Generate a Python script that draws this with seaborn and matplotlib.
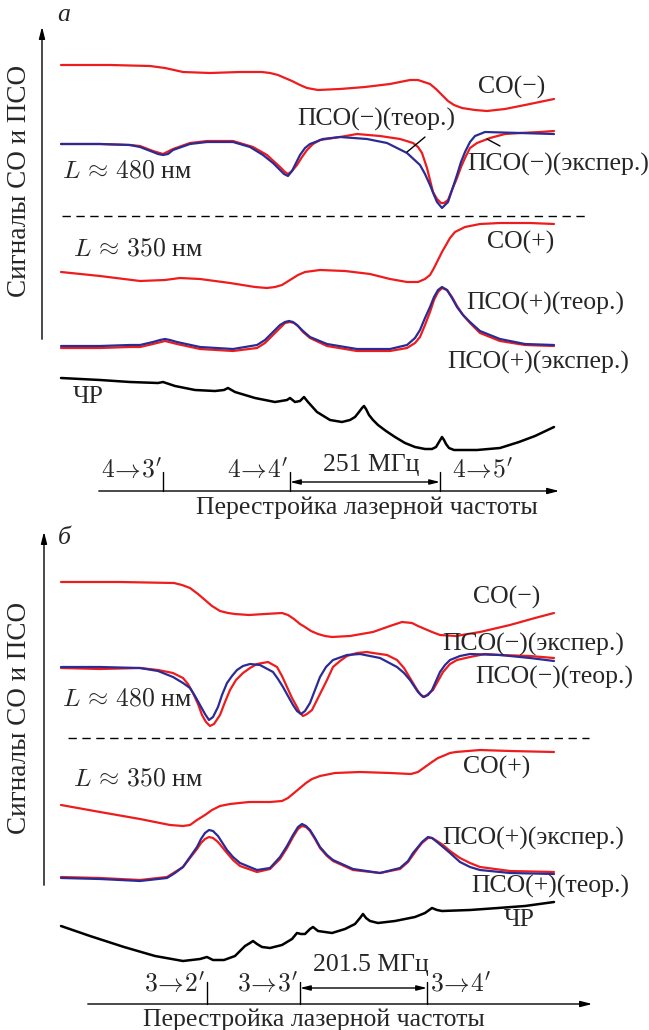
import numpy as np
import matplotlib
matplotlib.use("Agg")
import matplotlib.pyplot as plt
import seaborn as sns

# readings (scan channel, signal in a.u., screen-down)
# ---- panel a : F=4 transitions ----
co_minus_a_x = [61, 110, 150, 165, 183, 210, 240, 262, 270, 278, 285, 292, 300, 307, 318, 340, 365, 390, 410, 418, 424, 430, 436, 442, 448, 454, 462, 475, 487, 505, 525, 554]
co_minus_a_y = [65, 65, 66, 68, 72, 73, 72, 72, 73, 75, 78, 81, 85, 88, 90, 89, 87, 84, 80, 80, 82, 84, 89, 95, 101, 105, 108, 110, 111, 109, 105, 99]

pso_minus_a_teor_x = [61, 100, 130, 140, 153, 158, 163, 168, 173, 190, 207, 233, 250, 263, 273, 280, 284, 288, 292, 296, 300, 305, 310, 323, 340, 367, 387, 407, 420, 425, 430, 434, 437, 442, 448, 452, 457, 461, 465, 470, 475, 485, 520, 554]
pso_minus_a_teor_y = [144, 144, 145, 147, 152, 154, 155, 154, 150, 144, 142, 142, 147, 155, 163, 170, 174, 176, 171, 163, 155, 148, 144, 139, 137, 139, 143, 153, 165, 174, 185, 195, 202, 208, 202, 190, 175, 162, 152, 142, 136, 132, 133, 134]
pso_minus_a_exp_x = [61, 100, 130, 140, 153, 163, 173, 190, 207, 233, 253, 267, 280, 285, 288, 292, 297, 302, 307, 313, 320, 340, 357, 380, 400, 413, 418, 422, 427, 433, 437, 441, 444, 448, 452, 457, 461, 465, 470, 477, 490, 505, 520, 540, 554]
pso_minus_a_exp_y = [144, 144, 145, 146, 151, 154, 149, 143, 141, 141, 147, 155, 167, 172, 174, 171, 165, 157, 150, 144, 140, 137, 134, 136, 139, 143, 147, 153, 168, 192, 199, 203, 203, 200, 190, 178, 167, 158, 148, 143, 138, 134, 133, 132, 131]

co_plus_a_x = [61, 100, 140, 165, 180, 200, 230, 255, 267, 275, 282, 290, 298, 305, 320, 345, 370, 390, 407, 418, 425, 430, 434, 438, 442, 446, 450, 455, 465, 480, 500, 530, 554]
co_plus_a_y = [272, 276, 281, 280, 278, 279, 283, 287, 288, 287, 285, 280, 275, 272, 270, 271, 274, 279, 282, 282, 279, 275, 268, 260, 252, 245, 238, 232, 227, 224, 223, 223, 224]

pso_plus_a_teor_x = [61, 100, 130, 140, 153, 160, 165, 170, 177, 200, 233, 257, 265, 270, 275, 280, 285, 289, 293, 297, 303, 310, 327, 357, 390, 407, 415, 420, 425, 430, 434, 438, 442, 447, 452, 457, 463, 470, 480, 500, 525, 554]
pso_plus_a_teor_y = [346, 346, 345, 345, 342, 340, 339, 340, 342, 347, 349, 345, 340, 335, 330, 325, 322, 321, 322, 325, 331, 337, 344, 349, 349, 345, 338, 330, 318, 307, 297, 290, 287, 290, 298, 307, 315, 322, 331, 339, 344, 345]
pso_plus_a_exp_x = [61, 100, 130, 140, 153, 165, 177, 200, 233, 257, 265, 270, 275, 280, 285, 290, 294, 298, 303, 310, 327, 357, 390, 407, 415, 420, 425, 430, 434, 438, 442, 447, 452, 457, 463, 470, 480, 500, 525, 554]
pso_plus_a_exp_y = [348, 348, 347, 347, 344, 341, 344, 349, 351, 348, 343, 338, 333, 328, 323, 322, 323, 326, 332, 338, 346, 351, 351, 348, 343, 337, 325, 312, 300, 292, 288, 290, 297, 306, 315, 323, 333, 341, 345, 346]

chr_a_x = [61, 100, 130, 158, 163, 175, 195, 215, 224, 228, 235, 255, 275, 287, 290, 295, 300, 304, 308, 317, 330, 342, 350, 355, 359, 362, 364, 366, 369, 373, 378, 386, 395, 405, 415, 425, 432, 436, 439, 442, 444, 446, 449, 454, 477, 500, 519, 535, 554]
chr_a_y = [378, 380, 382, 383, 382, 386, 390, 391, 390, 388, 392, 398, 402, 400, 398, 402, 401, 397, 402, 412, 420, 422, 420, 417, 412, 408, 406, 409, 415, 420, 425, 431, 437, 443, 447, 449, 449, 447, 442, 437, 440, 444, 448, 450, 450, 448, 442, 436, 427]

trans_a = [163, 290, 440]
trans_a_labels = [r"$4\!\rightarrow\!3'$", r"$4\!\rightarrow\!4'$", r"$4\!\rightarrow\!5'$"]

# ---- panel b : F=3 transitions ----
co_minus_b_x = [61, 120, 174, 182, 190, 198, 205, 212, 220, 228, 235, 249, 265, 282, 288, 294, 300, 305, 311, 318, 325, 332, 350, 373, 390, 402, 412, 418, 425, 432, 440, 456, 480, 510, 535, 554]
co_minus_b_y = [582, 582, 583, 585, 588, 594, 600, 606, 611, 613, 614, 615, 614, 613, 615, 619, 624, 627, 631, 634, 636, 637, 636, 632, 626, 622, 623, 626, 629, 632, 635, 636, 632, 625, 618, 613]

pso_minus_b_teor_x = [61, 100, 140, 158, 173, 183, 190, 195, 200, 205, 209, 213, 218, 222, 227, 232, 237, 243, 250, 260, 273, 278, 283, 288, 293, 297, 301, 305, 310, 315, 320, 326, 333, 347, 360, 380, 397, 404, 410, 414, 418, 421, 424, 428, 432, 436, 440, 445, 450, 460, 470, 500, 530, 554]
pso_minus_b_teor_y = [667, 667, 668, 671, 677, 683, 688, 696, 705, 714, 720, 717, 707, 695, 683, 676, 670, 666, 664, 665, 672, 679, 687, 696, 705, 711, 714, 711, 703, 690, 677, 667, 660, 655, 654, 658, 667, 673, 680, 686, 692, 695, 697, 695, 690, 681, 672, 665, 660, 656, 654, 655, 658, 661]
pso_minus_b_exp_x = [61, 100, 140, 158, 173, 183, 188, 193, 198, 202, 206, 210, 214, 220, 225, 230, 236, 243, 250, 257, 268, 277, 282, 287, 292, 297, 300, 303, 307, 312, 317, 322, 327, 333, 340, 347, 357, 367, 373, 387, 397, 404, 410, 416, 420, 423, 427, 433, 438, 443, 450, 457, 470, 485, 500, 530, 554]
pso_minus_b_exp_y = [668, 669, 668, 670, 673, 678, 684, 693, 704, 715, 722, 726, 724, 715, 702, 690, 680, 673, 668, 664, 662, 667, 676, 687, 698, 707, 713, 716, 714, 710, 700, 690, 680, 667, 661, 656, 653, 652, 653, 655, 660, 668, 678, 688, 694, 697, 695, 690, 681, 672, 664, 660, 657, 654, 655, 656, 658]

co_plus_b_x = [61, 100, 140, 170, 183, 190, 197, 205, 212, 220, 230, 249, 270, 282, 288, 294, 300, 306, 312, 320, 335, 360, 390, 411, 418, 425, 432, 438, 443, 450, 456, 480, 510, 554]
co_plus_b_y = [805, 812, 819, 825, 826, 825, 820, 815, 810, 806, 804, 802, 802, 801, 798, 793, 788, 783, 779, 776, 773, 772, 773, 774, 772, 767, 762, 758, 756, 753, 752, 750, 751, 752]

pso_plus_b_x = [61, 100, 140, 167, 175, 183, 190, 197, 201, 205, 209, 213, 218, 227, 233, 240, 257, 270, 280, 287, 293, 298, 302, 306, 310, 315, 320, 327, 333, 353, 380, 400, 408, 413, 418, 422, 428, 432, 437, 443, 450, 460, 470, 480, 510, 554]
pso_plus_b_teor_y = [878, 879, 881, 878, 873, 867, 857, 847, 839, 833, 830, 831, 836, 850, 857, 863, 870, 868, 857, 846, 835, 827, 824, 826, 830, 838, 847, 855, 860, 869, 873, 868, 861, 853, 847, 842, 837, 838, 842, 847, 853, 862, 867, 870, 873, 874]
pso_plus_b_exp_y = [877, 878, 880, 877, 872, 867, 858, 849, 843, 839, 837, 838, 842, 853, 860, 866, 872, 869, 859, 848, 837, 829, 826, 827, 831, 839, 848, 856, 861, 870, 873, 869, 862, 855, 848, 843, 838, 838, 841, 845, 851, 858, 863, 867, 871, 872]

chr_b_x = [61, 90, 124, 155, 183, 200, 207, 213, 224, 235, 245, 250, 253, 257, 262, 270, 282, 292, 297, 301, 305, 310, 313, 318, 332, 345, 355, 360, 363, 366, 370, 378, 395, 415, 425, 432, 437, 442, 470, 498, 525, 554]
chr_b_y = [926, 936, 947, 956, 961, 959, 957, 960, 960, 956, 946, 943, 941, 944, 947, 948, 945, 939, 933, 934, 934, 929, 927, 931, 933, 929, 924, 918, 914, 918, 921, 923, 921, 917, 913, 908, 910, 911, 910, 908, 906, 902]

trans_b = [207, 300, 427]
trans_b_labels = [r"$3\!\rightarrow\!2'$", r"$3\!\rightarrow\!3'$", r"$3\!\rightarrow\!4'$"]

RED = "#ee1c1c"
BLUE = "#2b2b96"

sns.set_style("white")
plt.rcParams['font.family'] = ['Liberation Serif', 'DejaVu Serif']
plt.rcParams['mathtext.fontset'] = 'cm'
FS = 18.5

fig = plt.figure(figsize=(6.49, 10.30), dpi=100)
ax_a = fig.add_axes([0, 0.5, 1, 0.5])
ax_b = fig.add_axes([0, 0, 1, 0.5])
ax_a.set_xlim(0, 649)
ax_a.set_ylim(515, 0)
ax_b.set_xlim(0, 649)
ax_b.set_ylim(1030, 515)

ARROW = dict(arrowstyle="-|>,head_length=0.7,head_width=0.18", color="black", lw=1)
DARROW = dict(arrowstyle="<|-|>,head_length=0.6,head_width=0.15", color="black", lw=1, shrinkA=0, shrinkB=0)


def curve(ax, x, y, color, lw=1.6):
    sns.lineplot(x=x, y=y, ax=ax, color=color, linewidth=lw, estimator=None, sort=False,
                 solid_joinstyle="round", solid_capstyle="round")


def txt(ax, x, y, s, ha="left", **kw):
    ax.text(x, y, s, ha=ha, va="center", fontsize=FS, **kw)


# panel a
curve(ax_a, co_minus_a_x, co_minus_a_y, RED)
curve(ax_a, pso_minus_a_exp_x, pso_minus_a_exp_y, RED)
curve(ax_a, pso_minus_a_teor_x, pso_minus_a_teor_y, BLUE)
curve(ax_a, co_plus_a_x, co_plus_a_y, RED)
curve(ax_a, pso_plus_a_exp_x, pso_plus_a_exp_y, RED)
curve(ax_a, pso_plus_a_teor_x, pso_plus_a_teor_y, BLUE)
curve(ax_a, chr_a_x, chr_a_y, "black", lw=1.8)
ax_a.plot([62, 585], [216, 216], color="black", lw=1, dashes=(6, 4))
ax_a.plot([407, 425], [152, 137], color="black", lw=1)
ax_a.plot([487, 500], [139, 146], color="black", lw=1)

ax_a.annotate("", xy=(42, 24), xytext=(42, 342), arrowprops=ARROW)
ax_a.text(20, 181, "Сигналы СО и ПСО", rotation=90, ha="center", va="center", fontsize=19.5)
txt(ax_a, 57, 15, "а", fontstyle="italic")
txt(ax_a, 478, 87, "СО(−)")
txt(ax_a, 297, 119, "ПСО(−)(теор.)")
txt(ax_a, 467, 164, "ПСО(−)(экспер.)")
txt(ax_a, 62, 171, r"$L\,\approx\,480$ нм")
txt(ax_a, 73, 249, r"$L\,\approx\,350$ нм")
txt(ax_a, 487, 242, "СО(+)")
txt(ax_a, 466, 303, "ПСО(+)(теор.)")
txt(ax_a, 447, 362, "ПСО(+)(экспер.)")
txt(ax_a, 73, 397, "ЧР")

ax_a.annotate("", xy=(562, 491), xytext=(96, 491), arrowprops=ARROW)
for xt in trans_a:
    ax_a.plot([xt, xt], [472, 491], color="black", lw=1)
ax_a.annotate("", xy=(trans_a[1], 482), xytext=(trans_a[2], 482), arrowprops=DARROW)
txt(ax_a, trans_a[0] - 1, 470, trans_a_labels[0], ha="right")
txt(ax_a, trans_a[1] - 2, 470, trans_a_labels[1], ha="right")
txt(ax_a, trans_a[2] + 12, 470, trans_a_labels[2])
txt(ax_a, 371, 465, "251 МГц", ha="center")
txt(ax_a, 367, 508, "Перестройка лазерной частоты", ha="center")

# panel b
curve(ax_b, co_minus_b_x, co_minus_b_y, RED)
curve(ax_b, pso_minus_b_exp_x, pso_minus_b_exp_y, RED)
curve(ax_b, pso_minus_b_teor_x, pso_minus_b_teor_y, BLUE)
curve(ax_b, co_plus_b_x, co_plus_b_y, RED)
curve(ax_b, pso_plus_b_x, pso_plus_b_exp_y, RED)
curve(ax_b, pso_plus_b_x, pso_plus_b_teor_y, BLUE)
curve(ax_b, chr_b_x, chr_b_y, "black", lw=1.8)
ax_b.plot([68, 589], [738, 738], color="black", lw=1, dashes=(6, 4))

ax_b.annotate("", xy=(44, 529), xytext=(44, 888), arrowprops=ARROW)
ax_b.text(20, 718, "Сигналы СО и ПСО", rotation=90, ha="center", va="center", fontsize=19.5)
txt(ax_b, 58, 538, "б", fontstyle="italic")
txt(ax_b, 473, 597, "СО(−)")
txt(ax_b, 442, 644, "ПСО(−)(экспер.)")
txt(ax_b, 475, 677, "ПСО(−)(теор.)")
txt(ax_b, 62, 700, r"$L\,\approx\,480$ нм")
txt(ax_b, 73, 780, r"$L\,\approx\,350$ нм")
txt(ax_b, 463, 767, "СО(+)")
txt(ax_b, 442, 838, "ПСО(+)(экспер.)")
txt(ax_b, 471, 886, "ПСО(+)(теор.)")
txt(ax_b, 504, 920, "ЧР")

ax_b.annotate("", xy=(595, 1004), xytext=(85, 1004), arrowprops=ARROW)
for xt in trans_b:
    ax_b.plot([xt, xt], [982, 1004], color="black", lw=1)
ax_b.annotate("", xy=(trans_b[1], 988), xytext=(trans_b[2], 988), arrowprops=DARROW)
txt(ax_b, trans_b[0] - 2, 984, trans_b_labels[0], ha="right")
txt(ax_b, trans_b[1] - 2, 984, trans_b_labels[1], ha="right")
txt(ax_b, trans_b[2] + 3, 984, trans_b_labels[2])
txt(ax_b, 371, 965, "201.5 МГц", ha="center")
txt(ax_b, 314, 1020, "Перестройка лазерной частоты", ha="center")

for ax in (ax_a, ax_b):
    ax.axis("off")

fig.savefig("out.png", dpi=100)
